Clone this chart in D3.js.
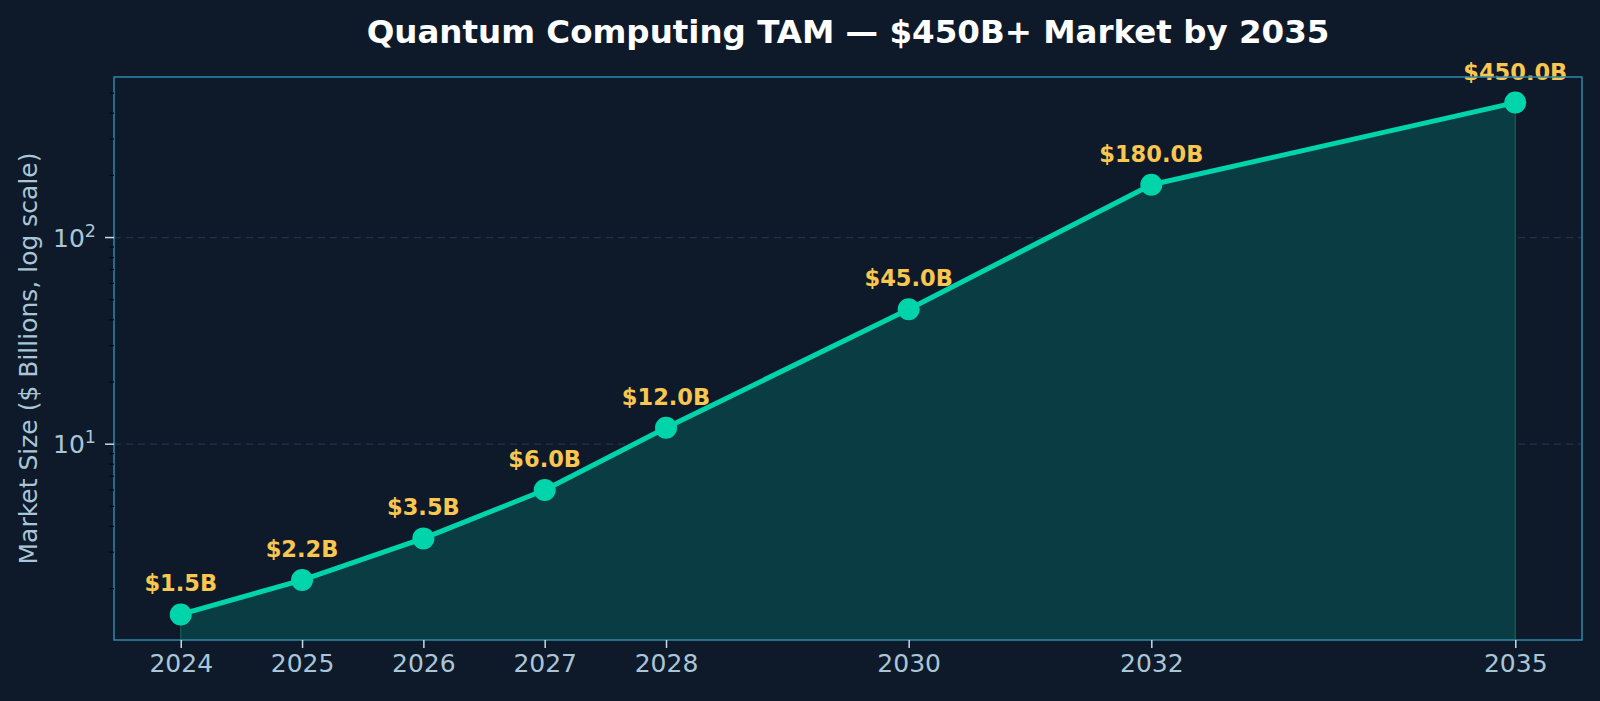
<!DOCTYPE html>
<html><head><meta charset="utf-8">
<script src="https://cdn.jsdelivr.net/npm/d3@7"></script>
<style>html,body{margin:0;padding:0;background:#0e1a2a;}svg{display:block;}</style>
</head><body>
<script>
const years = [2024, 2025, 2026, 2027, 2028, 2030, 2032, 2035];
const values = [1.5, 2.2, 3.5, 6.0, 12.0, 45.0, 180.0, 450.0];
const majorTicks = [10, 100];
const title = "Quantum Computing TAM — $450B+ Market by 2035";
const yLabel = "Market Size ($ Billions, log scale)";

const W = 1600, H = 701;
const m = {left: 114, right: 1582, top: 77, bottom: 640};
const svg = d3.select("body").append("svg").attr("width", W).attr("height", H)
  .style("font-family", "'DejaVu Sans', sans-serif");
svg.append("rect").attr("width", W).attr("height", H).attr("fill", "#0e1a2a");

const lx0 = Math.log10(d3.min(values)), lx1 = Math.log10(d3.max(values));
const pad = (lx1 - lx0) * 0.05;
const y = d3.scaleLog().domain([Math.pow(10, lx0 - pad), Math.pow(10, lx1 + pad)]).range([m.bottom, m.top]);
const xpad = (d3.max(years) - d3.min(years)) * 0.05;
const x = d3.scaleLinear().domain([d3.min(years) - xpad, d3.max(years) + xpad]).range([m.left, m.right]);

// grid
svg.append("g").selectAll("line").data(majorTicks).join("line")
  .attr("x1", m.left).attr("x2", m.right)
  .attr("y1", d => y(d)).attr("y2", d => y(d))
  .attr("stroke", "#1f3448").attr("stroke-width", 1.2).attr("stroke-dasharray", "7,5");

// fill
const pts = years.map((yr, i) => [x(yr), y(values[i])]);
const area = d3.area().x(d => d[0]).y0(m.bottom).y1(d => d[1]);
svg.append("path").datum(pts).attr("d", area).attr("fill", "#0a3d43");
svg.append("g").selectAll("line").data([pts[0], pts[pts.length - 1]]).join("line")
  .attr("x1", d => d[0]).attr("x2", d => d[0]).attr("y1", d => d[1]).attr("y2", m.bottom)
  .attr("stroke", "#11564f").attr("stroke-width", 1.5);

// line
svg.append("path").datum(pts).attr("d", d3.line())
  .attr("fill", "none").attr("stroke", "#00d4aa").attr("stroke-width", 5)
  .attr("stroke-linejoin", "round");
svg.append("g").selectAll("circle").data(pts).join("circle")
  .attr("cx", d => d[0]).attr("cy", d => d[1]).attr("r", 11).attr("fill", "#00d4aa");

// value labels
svg.append("g").selectAll("text").data(years).join("text")
  .attr("x", d => x(d)).attr("y", (d, i) => y(values[i]) - 23)
  .attr("text-anchor", "middle").attr("font-weight", "bold").attr("font-size", 22.5)
  .attr("fill", "#f9c74f")
  .text((d, i) => "$" + values[i].toFixed(1) + "B");

// frame
svg.append("rect").attr("x", m.left).attr("y", m.top)
  .attr("width", m.right - m.left).attr("height", m.bottom - m.top)
  .attr("fill", "none").attr("stroke", "#2e86ab").attr("stroke-width", 1.5);

// x axis
const xAxis = d3.axisBottom(x).tickValues(years).tickFormat(d3.format("d")).tickSize(8).tickPadding(6);
const gx = svg.append("g").attr("transform", `translate(0,${m.bottom})`).call(xAxis);
gx.select(".domain").remove();
gx.selectAll(".tick line").attr("stroke", "#c5dbe8").attr("stroke-width", 1.5);
gx.selectAll(".tick text").attr("fill", "#a9c6d8").attr("font-size", 25)
  .attr("font-family", "'DejaVu Sans', sans-serif");

// y axis minor ticks
const [d0, d1] = y.domain();
const minor = [];
for (let e = Math.floor(Math.log10(d0)); e <= Math.ceil(Math.log10(d1)); e++) {
  for (let k = 2; k <= 9; k++) { const v = k * Math.pow(10, e); if (v >= d0 && v <= d1) minor.push(v); }
}
svg.append("g").selectAll("line").data(minor).join("line")
  .attr("x1", m.left - 5).attr("x2", m.left).attr("y1", d => y(d)).attr("y2", d => y(d))
  .attr("stroke", "#05080c").attr("stroke-width", 1.2);
const gy = svg.append("g");
gy.selectAll("line").data(majorTicks).join("line")
  .attr("x1", m.left - 9).attr("x2", m.left).attr("y1", d => y(d)).attr("y2", d => y(d))
  .attr("stroke", "#c5dbe8").attr("stroke-width", 1.5);
const yt = gy.selectAll("text").data(majorTicks).join("text")
  .attr("x", m.left - 18).attr("y", d => y(d) + 9)
  .attr("text-anchor", "end").attr("fill", "#a9c6d8").attr("font-size", 25);
yt.append("tspan").text("10");
yt.append("tspan").attr("dy", -10).attr("font-size", 17.5).text(d => Math.round(Math.log10(d)));

// y label
svg.append("text").attr("transform", `translate(37,${(m.top + m.bottom) / 2}) rotate(-90)`)
  .attr("text-anchor", "middle").attr("fill", "#a9c6d8").attr("font-size", 25).text(yLabel);

// title
svg.append("text").attr("x", (m.left + m.right) / 2).attr("y", 43)
  .attr("text-anchor", "middle").attr("fill", "#ffffff").attr("font-weight", "bold")
  .attr("font-size", 32.5).text(title);
</script>
</body></html>
